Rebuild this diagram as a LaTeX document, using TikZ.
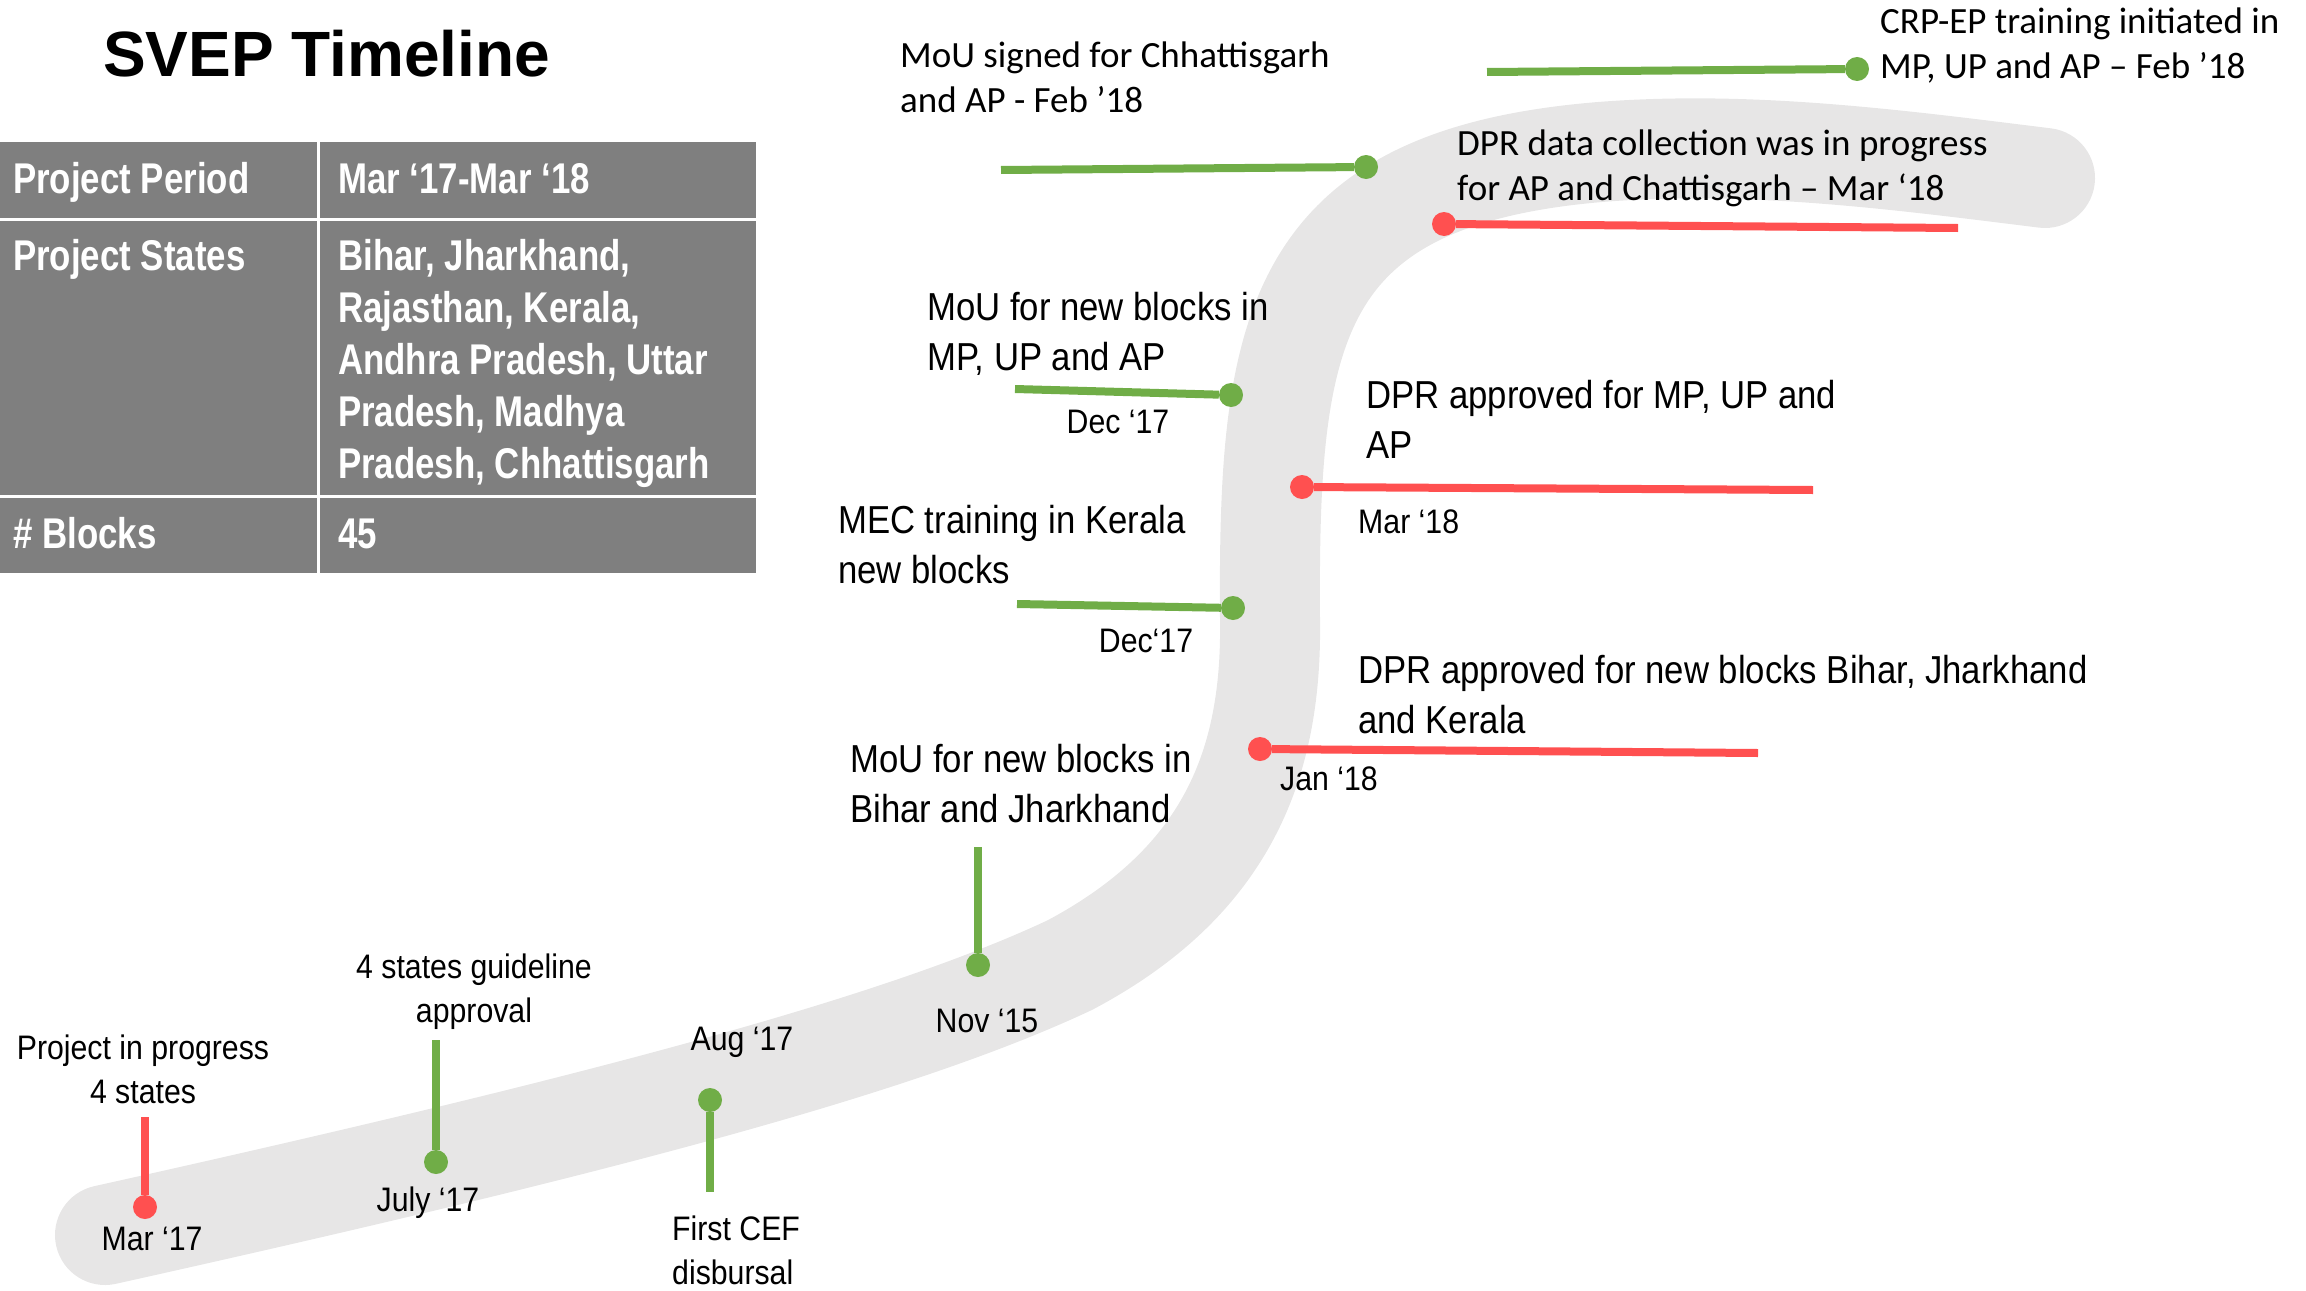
\documentclass[tikz,border=0pt]{standalone}
\usepackage{fontspec}
\setmainfont{Liberation Sans}
\newfontfamily\narrowfont[FakeStretch=0.89]{Liberation Sans}
\newfontfamily\tablefont[FakeStretch=0.81]{Liberation Sans}
\newfontfamily\notefont{Carlito}
\definecolor{svepgreen}{HTML}{70AD47}
\definecolor{svepred}{HTML}{FF5050}
\definecolor{bandgray}{HTML}{E7E6E6}
\definecolor{tablegray}{HTML}{7F7F7F}

\begin{document}
\begin{tikzpicture}[x=1pt,y=-1pt,
    greendot/.style={circle,fill=svepgreen,inner sep=0,minimum size=24},
    reddot/.style={circle,fill=svepred,inner sep=0,minimum size=24},
    greenline/.style={color=svepgreen,line width=8},
    redline/.style={color=svepred,line width=8},
    event/.style={inner sep=0,align=left,anchor=base west,font=\narrowfont\fontsize{39}{50}\selectfont},
    small event/.style={inner sep=0,align=center,anchor=base,font=\narrowfont\fontsize{34}{44}\selectfont},
    date/.style={inner sep=0,anchor=base,font=\narrowfont\fontsize{34}{44}\selectfont},
    note/.style={inner sep=0,align=left,anchor=base west,font=\notefont\fontsize{37}{45}\selectfont},
    cell/.style={inner sep=0,align=left,anchor=base west,text=white,font=\tablefont\bfseries\fontsize{43}{52}\selectfont}]

    \useasboundingbox (0,0) rectangle (2306,1290);

    % timeline band
    \draw[bandgray,line width=100,line cap=round]
        (105,1235) .. controls (600,1125) and (900,1045) .. (1070,965)
        .. controls (1230,880) and (1272,760) .. (1270,620)
        .. controls (1268,330) and (1290,178) .. (1600,152)
        .. controls (1750,140) and (1900,160) .. (2045,178);

    % title and table
    \node[inner sep=0,anchor=base west,font=\bfseries\fontsize{64}{72}\selectfont] (title) at (103,77) {SVEP Timeline};

    \fill[tablegray] (0,142) rectangle (756,573);
    \draw[white,line width=3] (318,142) -- (318,573) (0,219) -- (756,219) (0,496) -- (756,496);
    \node[cell] (period) at (13,193) {Project Period};
    \node[cell] (periodval) at (338,193) {Mar ‘17-Mar ‘18};
    \node[cell] (states) at (13,270) {Project States};
    \node[cell] (statesval) at (338,478) {Bihar, Jharkhand,\\Rajasthan, Kerala,\\Andhra Pradesh, Uttar\\Pradesh, Madhya\\Pradesh, Chhattisgarh};
    \node[cell] (blocks) at (13,548) {\# Blocks};
    \node[cell] (blocksval) at (338,548) {45};

    % dots
    \node[reddot] (mar17) at (145,1207) {};
    \node[greendot] (jul17) at (436,1162) {};
    \node[greendot] (aug17) at (710,1100) {};
    \node[greendot] (nov15) at (978,965) {};
    \node[greendot] (mec) at (1233,608) {};
    \node[greendot] (moump) at (1231,395) {};
    \node[greendot] (mouch) at (1366,167) {};
    \node[greendot] (crpep) at (1857,69) {};
    \node[reddot] (dprdata) at (1444,224) {};
    \node[reddot] (dprmp) at (1302,487) {};
    \node[reddot] (dprbihar) at (1260,749) {};

    \coordinate (mar17end) at (145,1117);
    \coordinate (jul17end) at (436,1040);
    \coordinate (aug17end) at (710,1192);
    \coordinate (nov15end) at (978,847);
    \coordinate (mecend) at (1017,604);
    \coordinate (moumpend) at (1015,389);
    \coordinate (mouchend) at (1001,170);
    \coordinate (crpepend) at (1487,72);
    \coordinate (dprdataend) at (1958,228);
    \coordinate (dprmpend) at (1813,490);
    \coordinate (dprbiharend) at (1758,753);

    \path[redline]
        (mar17end) edge (mar17)
        (dprdata) edge (dprdataend)
        (dprmp) edge (dprmpend)
        (dprbihar) edge (dprbiharend)
    ;
    \path[greenline]
        (jul17end) edge (jul17)
        (aug17) edge (aug17end)
        (nov15end) edge (nov15)
        (mecend) edge (mec)
        (moumpend) edge (moump)
        (mouchend) edge (mouch)
        (crpepend) edge (crpep)
    ;

    % labels (multi-line nodes sit on their last line)
    \node[small event] (mar17text) at (143,1103) {Project in progress\\4 states};
    \node[date] (mar17date) at (152,1250) {Mar ‘17};
    \node[small event] (jul17text) at (474,1022) {4 states guideline\\approval};
    \node[date] (jul17date) at (428,1211) {July ‘17};
    \node[date] (aug17date) at (742,1050) {Aug ‘17};
    \node[small event,align=left,anchor=base west] (aug17text) at (672,1284) {First CEF\\disbursal};
    \node[date] (nov15date) at (987,1032) {Nov ‘15};
    \node[event] (nov15text) at (850,822) {MoU for new blocks in\\Bihar and Jharkhand};
    \node[event] (mectext) at (838,583) {MEC training in Kerala\\new blocks};
    \node[date] (mecdate) at (1146,652) {Dec‘17};
    \node[event] (moumptext) at (927,370) {MoU for new blocks in\\MP, UP and AP};
    \node[date] (moumpdate) at (1118,433) {Dec ‘17};
    \node[note] (mouchtext) at (900,112) {MoU signed for Chhattisgarh\\and AP - Feb ’18};
    \node[note] (crpeptext) at (1880,78) {CRP-EP training initiated in\\MP, UP and AP – Feb ’18};
    \node[note] (dprdatatext) at (1457,200) {DPR data collection was in progress\\for AP and Chattisgarh – Mar ‘18};
    \node[event] (dprmptext) at (1366,458) {DPR approved for MP, UP and\\AP};
    \node[date,anchor=base west] (dprmpdate) at (1358,533) {Mar ‘18};
    \node[event] (dprbihartext) at (1358,733) {DPR approved for new blocks Bihar, Jharkhand\\and Kerala};
    \node[date,anchor=base west] (dprbihardate) at (1280,790) {Jan ‘18};
\end{tikzpicture}
\end{document}
